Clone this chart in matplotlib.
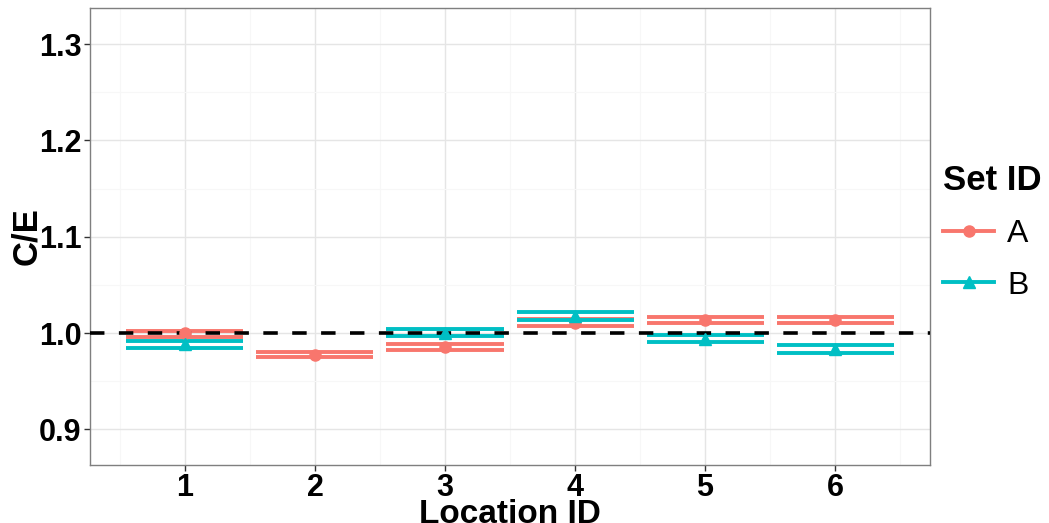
import matplotlib
matplotlib.use("Agg")
from matplotlib import pyplot as plt
from matplotlib.lines import Line2D
from matplotlib.ticker import MultipleLocator

# valores (C/E por local, com limites inferior/superior)
loc_a = [1, 2, 3, 4, 5, 6]
ce_a = [1.000, 0.9777, 0.9855, 1.0107, 1.0135, 1.0135]
lo_a = [0.9962, 0.9747, 0.9823, 1.0073, 1.0100, 1.0100]
hi_a = [1.0024, 0.9806, 0.9886, 1.0142, 1.0169, 1.0169]

loc_b = [1, 3, 4, 5, 6]
ce_b = [0.9890, 1.0005, 1.0180, 0.9940, 0.9834]
lo_b = [0.9844, 0.9969, 1.0138, 0.9903, 0.9796]
hi_b = [0.9913, 1.0042, 1.0218, 0.9979, 0.9872]

ref_line = 1.0
x_ticks = [1, 2, 3, 4, 5, 6]
y_ticks = [0.9, 1.0, 1.1, 1.2, 1.3]

cor_a = "#F8766D"
cor_b = "#00BFC4"
half_w = 0.45

plt.rcParams['font.family'] = ['Liberation Sans', 'DejaVu Sans']

fig = plt.figure(figsize=(10.49, 5.23), dpi=100)
ax = fig.add_axes([0.0858, 0.1109, 0.8008, 0.8738])

# grade estilo theme_bw
ax.set_axisbelow(True)
ax.xaxis.set_minor_locator(MultipleLocator(0.5))
ax.yaxis.set_minor_locator(MultipleLocator(0.05))
ax.grid(True, which='major', color='#E5E5E5', linewidth=1.0)
ax.grid(True, which='minor', color='#F7F7F7', linewidth=0.8)
ax.tick_params(which='minor', length=0)

# barras de erro (somente as tampas horizontais)
for xs, lo, hi, c in [(loc_a, lo_a, hi_a, cor_a), (loc_b, lo_b, hi_b, cor_b)]:
    left = [x - half_w for x in xs]
    right = [x + half_w for x in xs]
    ax.hlines(lo, left, right, colors=c, linewidth=2.8, capstyle='butt', zorder=2)
    ax.hlines(hi, left, right, colors=c, linewidth=2.8, capstyle='butt', zorder=2)

ax.axhline(ref_line, color='black', linewidth=2.6, dashes=(4, 4), zorder=3)

ax.plot(loc_a, ce_a, 'o', color=cor_a, markersize=8, zorder=4)
ax.plot(loc_b, ce_b, '^', color=cor_b, markersize=9, zorder=4)

ax.set_xlim(0.27, 6.73)
ax.set_ylim(0.863, 1.3374)
ax.set_xticks(x_ticks)
ax.set_xticklabels([str(v) for v in x_ticks])
ax.set_yticks(y_ticks)
ax.set_yticklabels(["%.1f" % v for v in y_ticks])
ax.tick_params(which='major', length=4, width=1, color='#333333', pad=2,
               labelsize=22)
for lab in ax.get_xticklabels() + ax.get_yticklabels():
    lab.set_fontweight('bold')

for s in ax.spines.values():
    s.set_color('#7F7F7F')
    s.set_linewidth(1.0)

ax.set_xlabel("Location ID", fontsize=24, fontweight='bold', labelpad=-3)
ax.set_ylabel("C/E", fontsize=25, fontweight='bold', labelpad=-3)

handles = [Line2D([], [], color=cor_a, marker='o', linewidth=2.8, markersize=8),
           Line2D([], [], color=cor_b, marker='^', linewidth=2.8, markersize=9)]
leg = fig.legend(handles, ["A", "B"], title="Set ID", loc='upper left',
                 bbox_to_anchor=(0.899, 0.686), frameon=False, fontsize=23,
                 handlelength=1.6, labelspacing=0.68, handletextpad=0.4,
                 borderaxespad=0, borderpad=0)
leg.get_title().set_fontsize(25)
leg.get_title().set_fontweight('bold')
leg._legend_box.align = "left"

fig.savefig("out.png", dpi=100)
